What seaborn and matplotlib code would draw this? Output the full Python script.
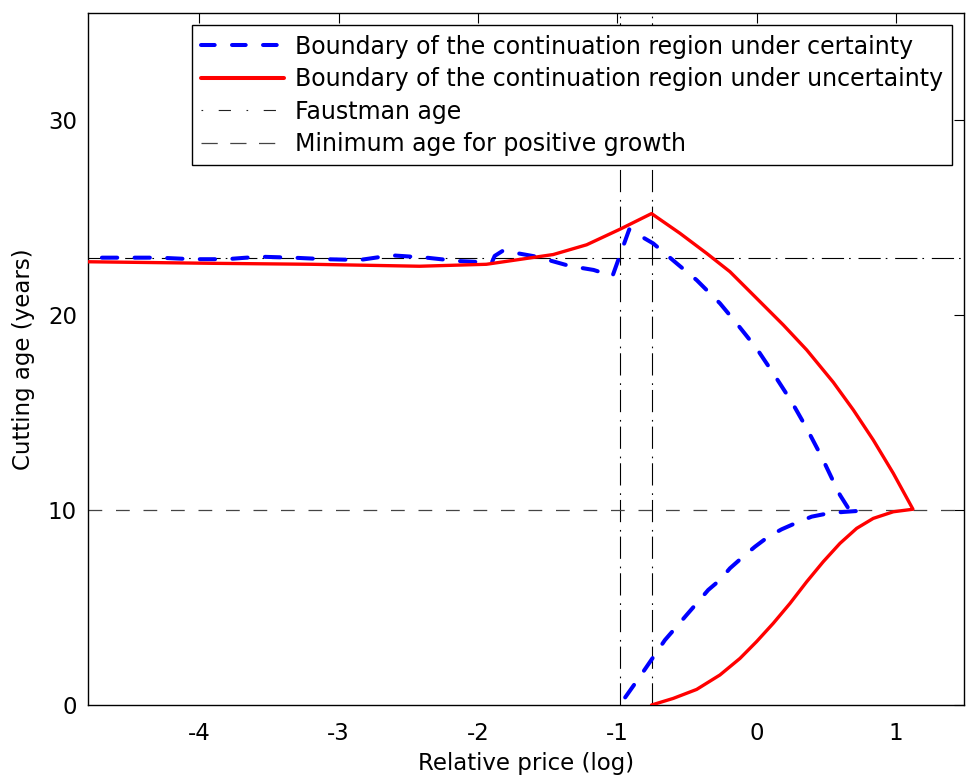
import numpy as np
import pandas as pd
import matplotlib
matplotlib.use("Agg")
import matplotlib.pyplot as plt
from matplotlib.lines import Line2D
import seaborn as sns

# ---- data ----
blue_x = [-4.70, -4.62, -4.29, -4.05, -3.81, -3.57, -3.33, -3.09, -2.85, -2.62, -2.37, -2.15, -1.94,
          -1.90, -1.88, -1.82, -1.58, -1.34, -1.17, -1.034, -0.914, -0.886, -0.742, -0.574, -0.43,
          -0.263, -0.143, 0.0, 0.12, 0.252, 0.36, 0.467, 0.575, 0.599, 0.659, 0.743,
          0.623, 0.515, 0.396, 0.288, 0.18, 0.084, -0.011, -0.096, -0.191, -0.263, -0.347, -0.419,
          -0.502, -0.574, -0.658, -0.723, -0.838, -0.982]
blue_y = [22.94, 22.94, 22.94, 22.86, 22.86, 22.99, 22.94, 22.86, 22.82, 23.06, 22.94, 22.77, 22.70,
          22.70, 23.03, 23.30, 22.99, 22.51, 22.31, 22.0, 24.39, 24.27, 23.67, 22.65, 21.79,
          20.6, 19.57, 18.29, 17.01, 15.55, 14.19, 12.73, 11.11, 10.77, 10.09, 9.96,
          9.90, 9.83, 9.66, 9.35, 9.01, 8.63, 8.12, 7.61, 7.01, 6.41, 5.90, 5.30,
          4.62, 4.02, 3.33, 2.65, 1.45, 0.0]

red_x = [-4.80, -3.91, -3.19, -2.42, -1.94, -1.70, -1.46, -1.22, -0.98, -0.754,
         -0.55, -0.358, -0.191, 0.0, 0.192, 0.36, 0.551, 0.695, 0.838, 0.982, 1.123,
         0.982, 0.838, 0.719, 0.599, 0.479, 0.36, 0.24, 0.12, 0.0, -0.119, -0.263, -0.43,
         -0.598, -0.754]
red_y = [22.73, 22.65, 22.60, 22.50, 22.60, 22.85, 23.10, 23.60, 24.40, 25.20,
         24.19, 23.16, 22.22, 20.86, 19.49, 18.21, 16.55, 15.13, 13.59, 11.88, 10.04,
         9.91, 9.57, 9.06, 8.29, 7.35, 6.32, 5.21, 4.19, 3.25, 2.39, 1.54, 0.80,
         0.34, 0.0]

faustman_age = 22.92
min_age = 10.0
vline_x = [-0.982, -0.754]

x_ticks = [-4, -3, -2, -1, 0, 1]
y_ticks = [0, 10, 20, 30]

labels = ["Boundary of the continuation region under certainty",
          "Boundary of the continuation region under uncertainty",
          "Faustman age",
          "Minimum age for positive growth"]

# ---- style ----
sns.set_style("white")
plt.rcParams["font.family"] = ["DejaVu Sans"]
plt.rcParams["text.color"] = "black"
plt.rcParams["axes.labelcolor"] = "black"
plt.rcParams["xtick.color"] = "black"
plt.rcParams["ytick.color"] = "black"

fig = plt.figure(figsize=(9.66, 7.78), dpi=100)
ax = fig.add_axes([0.0911, 0.0938, 0.9069, 0.8891])

df_b = pd.DataFrame({"x": blue_x, "y": blue_y})
df_r = pd.DataFrame({"x": red_x, "y": red_y})

blue_ls = (0, (3.8, 4.3))
dashdot = (0, (20, 4.5, 1.5, 7))
dash = (0, (11, 11))

sns.lineplot(data=df_b, x="x", y="y", sort=False, estimator=None, ax=ax,
             color="#0000ff", lw=2.9, linestyle=blue_ls, dash_capstyle="round",
             zorder=4, legend=False)
sns.lineplot(data=df_r, x="x", y="y", sort=False, estimator=None, ax=ax,
             color="#ff0000", lw=2.4, zorder=5, legend=False)

ax.axhline(faustman_age, color="black", lw=0.8, ls=dashdot, zorder=2)
for vx in vline_x:
    ax.axvline(vx, color="black", lw=0.8, ls=dashdot, zorder=2)
ax.axhline(min_age, color="#444444", lw=0.9, ls=dash, zorder=2)

ax.set_xlim(-4.8, 1.49)
ax.set_ylim(0, 35.47)
ax.set_xticks(x_ticks)
ax.set_xticklabels([str(t) for t in x_ticks])
ax.set_yticks(y_ticks)
ax.set_yticklabels([str(t) for t in y_ticks])
ax.tick_params(direction="in", length=7, width=0.8, top=True, right=True,
               labelsize=16.5, colors="black")
ax.tick_params(axis="x", pad=12)
ax.tick_params(axis="y", pad=8)
ax.set_xlabel("Relative price (log)", fontsize=16.5, labelpad=5, color="black")
ax.set_ylabel("Cutting age (years)", fontsize=16.5, labelpad=9, color="black")
for s in ax.spines.values():
    s.set_color("black")
    s.set_linewidth(1.0)

handles = [
    Line2D([], [], color="#0000ff", lw=2.9, linestyle=(0, (3.4, 4.3)), dash_capstyle="round"),
    Line2D([], [], color="#ff0000", lw=2.9),
    Line2D([], [], color="#222222", lw=0.8, linestyle=(0, (1.5, 14, 11, 14))),
    Line2D([], [], color="#444444", lw=0.9, linestyle=(0, (13, 10))),
]
leg = ax.legend(handles, labels, loc="upper right", fontsize=17, frameon=True, fancybox=False,
                edgecolor="black", framealpha=1, borderpad=0.4, labelspacing=0.36,
                handlelength=3.5, handletextpad=0.45, borderaxespad=0.5)
leg.get_frame().set_linewidth(1.0)
for t in leg.get_texts():
    t.set_color("black")

fig.savefig("out.png", dpi=100, facecolor="white")
